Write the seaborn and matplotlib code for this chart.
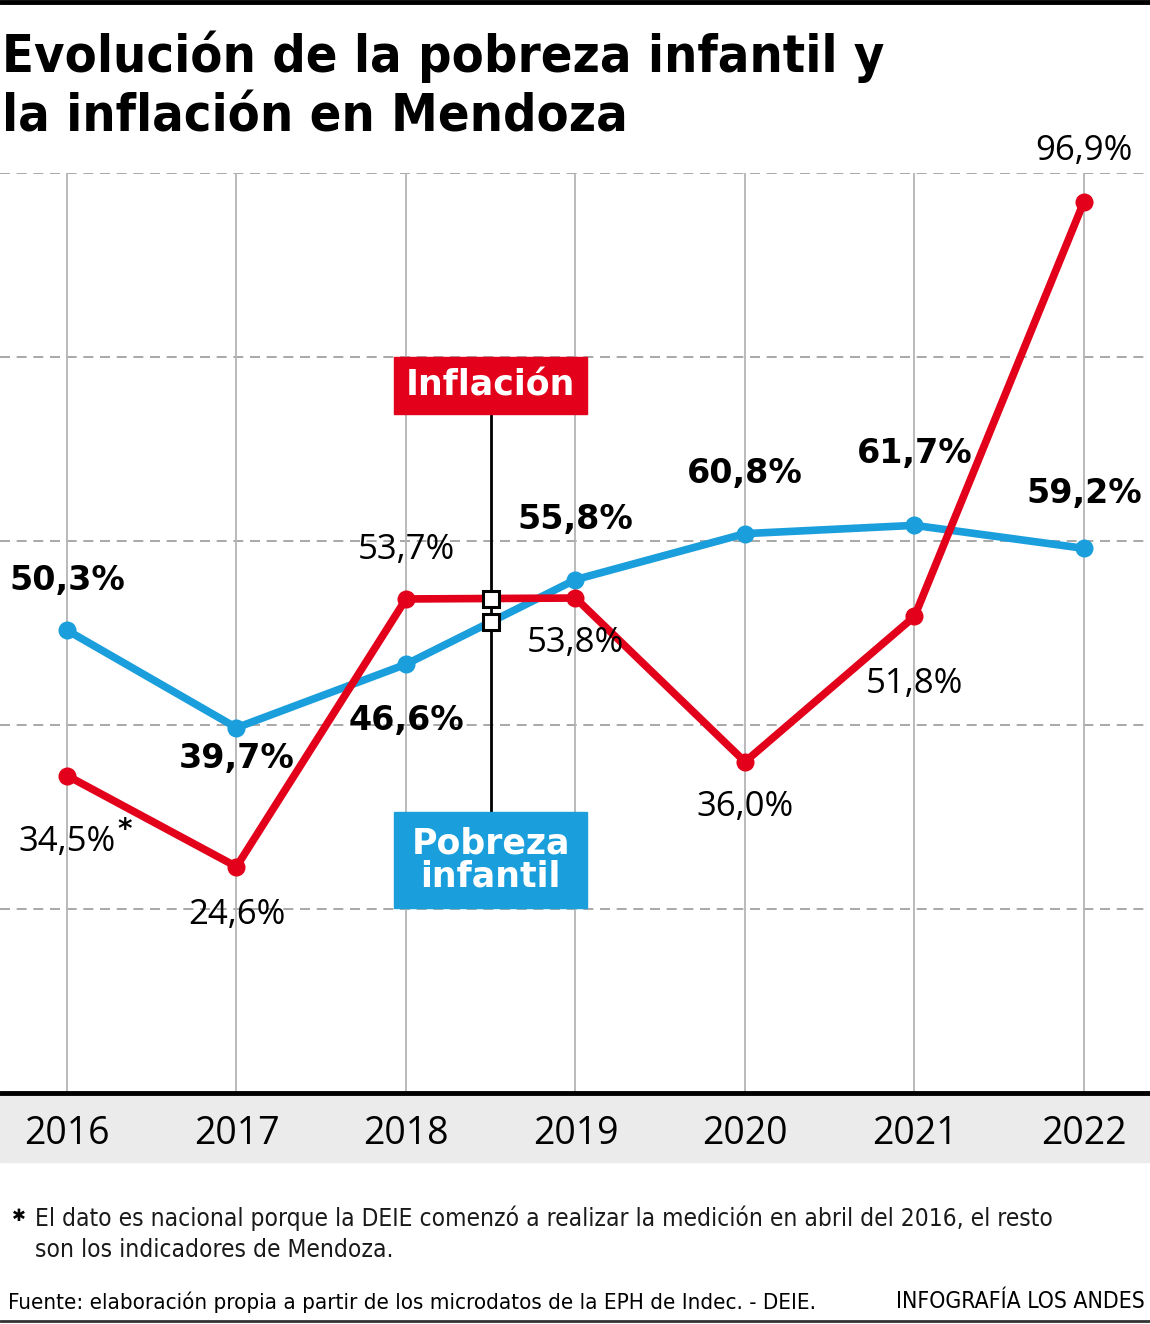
import numpy as np
import pandas as pd
import matplotlib
matplotlib.use('Agg')
import matplotlib.pyplot as plt
from matplotlib.patches import Rectangle
from matplotlib.lines import Line2D
import seaborn as sns

# datos
years = ['2016', '2017', '2018', '2019', '2020', '2021', '2022']
pobreza = [50.3, 39.7, 46.6, 55.8, 60.8, 61.7, 59.2]
inflacion = [34.5, 24.6, 53.7, 53.8, 36.0, 51.8, 96.9]

# desplazamiento vertical de las etiquetas (px, + arriba)
pob_dy = [50, -31, -56, 60, 60, 72, 55]
inf_dy = [-66, -48, 49, -45, -45, -68, 51]

RED = '#e2001a'
BLUE = '#1a9fdc'

def fmt(v):
    return f'{v:.1f}'.replace('.', ',') + '%'

if __name__ == '__main__':
    sns.set_style('white')
    plt.rcParams['font.family'] = ['DejaVu Sans']
    plt.rcParams['text.color'] = 'black'
    plt.rcParams['xtick.color'] = 'black'
    plt.rcParams['xtick.labelcolor'] = 'black'

    W, H = 1150, 1324
    fig = plt.figure(figsize=(W / 100, H / 100), dpi=100)
    fig.patch.set_facecolor('white')

    top_px, base_px = 173, 1093
    ax = fig.add_axes([0, 1 - base_px / H, 1, (base_px - top_px) / H])

    x = np.arange(len(years))
    df = pd.DataFrame({
        'x': np.concatenate([x, x]),
        'valor': pobreza + inflacion,
        'serie': ['Pobreza infantil'] * len(x) + ['Inflación'] * len(x),
    })

    # grilla
    for v in [20, 40, 60, 80, 100]:
        ax.axhline(v, color='#9a9a9a', lw=1.2, ls=(0, (6, 4)), zorder=0)
    ax.vlines(x, 0, 100, color='#b4b4b4', lw=1.3, zorder=0)
    ax.axhline(0, color='black', lw=3.5, zorder=5, clip_on=False)

    sns.lineplot(data=df, x='x', y='valor', hue='serie',
                 palette={'Pobreza infantil': BLUE, 'Inflación': RED},
                 marker='o', markersize=13, markeredgewidth=0,
                 linewidth=5.5, legend=False, ax=ax, zorder=3)

    ax.set_xlim(-67 / 169.5, 6 + 66 / 169.5)
    ax.set_ylim(0, 100)
    for s in ax.spines.values():
        s.set_visible(False)
    ax.set_yticks([])
    ax.set_xticks(x)
    ax.set_xticklabels(years, fontsize=27, family='Open Sans', color='black')
    ax.tick_params(axis='x', length=0, pad=16)
    ax.set_xlabel('')
    ax.set_ylabel('')

    # etiquetas de valores
    for i in x:
        ax.annotate(fmt(pobreza[i]), (i, pobreza[i]), xytext=(0, pob_dy[i]),
                    textcoords='offset pixels', ha='center', va='center',
                    fontsize=24, fontweight='bold', color='black', zorder=6,
                    annotation_clip=False)
        ax.annotate(fmt(inflacion[i]), (i, inflacion[i]), xytext=(0, inf_dy[i]),
                    textcoords='offset pixels', ha='center', va='center',
                    fontsize=25, family='Open Sans', color='black', zorder=6,
                    annotation_clip=False)
    ax.annotate('*', (0, inflacion[0]), xytext=(58, -54),
                textcoords='offset pixels', ha='center', va='center',
                fontsize=20, fontweight='bold', color='black', annotation_clip=False)

    # leyenda central
    lx = 2.5
    bw = 1.14
    ax.plot([lx, lx], [26, 76], color='black', lw=2, zorder=4)
    ax.plot([lx, lx], [np.interp(lx, x, inflacion), np.interp(lx, x, pobreza)],
            ls='none', marker='s', markersize=11, markerfacecolor='white',
            markeredgecolor='black', markeredgewidth=2.2, zorder=7)
    ax.add_patch(Rectangle((lx - bw / 2, 73.8), bw, 6.2, color=RED, zorder=8, clip_on=False))
    ax.text(lx, 76.9, 'Inflación', color='white', fontsize=25, fontweight='bold',
            ha='center', va='center', zorder=9)
    ax.add_patch(Rectangle((lx - bw / 2, 20.1), bw, 10.4, color=BLUE, zorder=8, clip_on=False))
    ax.text(lx, 25.3, 'Pobreza\ninfantil', color='white', fontsize=25, fontweight='bold',
            ha='center', va='center', linespacing=0.95, zorder=9)

    # banda gris del eje x
    fig.add_artist(Rectangle((0, 1 - 1162 / H), 1, (1162 - base_px) / H,
                             transform=fig.transFigure, color='#ebebeb', zorder=-1))

    # titulo
    fig.text(0.002, 1 - 57 / H, 'Evolución de la pobreza infantil y', fontsize=37.5,
             fontweight='heavy', fontstretch='condensed', va='center', ha='left')
    fig.text(0.002, 1 - 118 / H, 'la inflación en Mendoza', fontsize=37.5,
             fontweight='heavy', fontstretch='condensed', va='center', ha='left')
    fig.add_artist(Line2D([0, 1], [1 - 2 / H] * 2, transform=fig.transFigure,
                          color='black', lw=3.5))

    # notas
    fig.text(12 / W, 1 - 1216 / H, '✱', fontsize=12, fontweight='bold', va='center')
    fig.text(35 / W, 1 - 1218 / H,
             'El dato es nacional porque la DEIE comenzó a realizar la medición en abril del 2016, el resto',
             fontsize=17.6, fontstretch='condensed', va='center', color='#1a1a1a')
    fig.text(35 / W, 1 - 1250 / H, 'son los indicadores de Mendoza.',
             fontsize=17.6, fontstretch='condensed', va='center', color='#1a1a1a')
    fig.text(8 / W, 1 - 1302 / H,
             'Fuente: elaboración propia a partir de los microdatos de la EPH de Indec. - DEIE.',
             fontsize=16, fontstretch='condensed', va='center')
    fig.text(1145 / W, 1 - 1302 / H, 'INFOGRAFÍA LOS ANDES',
             fontsize=16.5, fontstretch='condensed', va='center', ha='right')
    fig.add_artist(Line2D([0, 1], [1 - 1321 / H] * 2, transform=fig.transFigure,
                          color='#333333', lw=2))

    fig.savefig('out.png', dpi=100, facecolor='white')
